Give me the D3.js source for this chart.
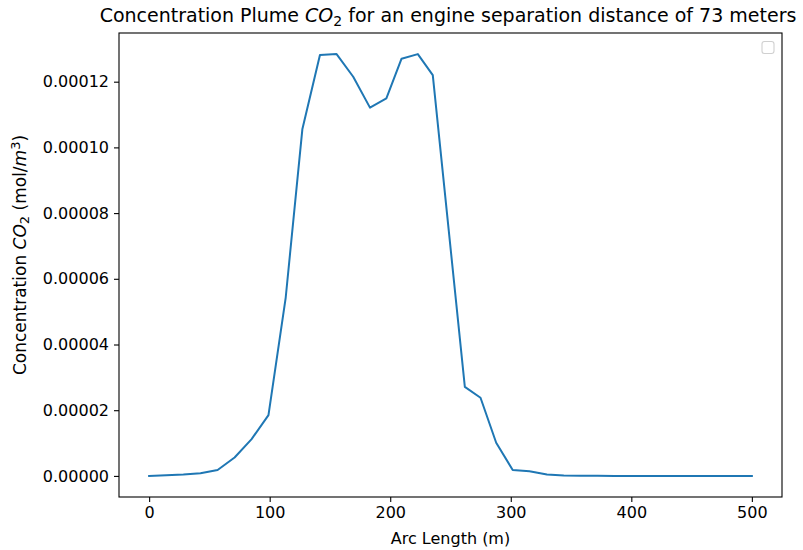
<!DOCTYPE html>
<html>
<head>
<meta charset="utf-8">
<script src="https://cdn.jsdelivr.net/npm/d3@7"></script>
<style>
  body { margin: 0; background: #fff; }
  svg text { font-family: "DejaVu Sans", sans-serif; fill: #000; }
</style>
</head>
<body>
<div id="chart"></div>
<script>
// arc length along the sampling arc (m)
const arcLength = [0, 14.2, 28.4, 42.6, 56.8, 70.9, 85, 99, 113.3, 127.1, 141.7, 155.5, 169.3, 183.2,
  196.8, 209.4, 222.9, 235.3, 248.6, 261.9, 274.9, 287.9, 301.6, 315.5, 330, 344, 358, 372, 386,
  400, 414, 428, 443, 457, 471, 486, 500];
// CO2 concentration (mol/m^3)
const concentration = [0, 0.0000002, 0.0000004, 0.0000008, 0.0000018, 0.0000056, 0.0000112, 0.0000185,
  0.0000543, 0.0001055, 0.0001281, 0.0001284, 0.0001215, 0.0001121, 0.0001149, 0.0001270, 0.0001284,
  0.0001220, 0.0000745, 0.0000271, 0.0000238, 0.0000101, 0.0000018, 0.0000014, 0.0000004, 0.0000001,
  0.00000005, 0.00000002, 0, 0, 0, 0, 0, 0, 0, 0, 0];
const xTicks = [0, 100, 200, 300, 400, 500];
const yTicks = [0, 0.00002, 0.00004, 0.00006, 0.00008, 0.0001, 0.00012];

const data = arcLength.map((d, i) => ({x: d, y: concentration[i]}));

var W = 803, H = 550;
var margin = {top: 33, right: 21, bottom: 53, left: 119},
    width = W - margin.left - margin.right,
    height = H - margin.top - margin.bottom;

var svg = d3.select("#chart").append("svg")
    .attr("width", W)
    .attr("height", H);

var g = svg.append("g")
    .attr("transform", "translate(" + margin.left + "," + margin.top + ")");

// matplotlib style 5% padding on data range
var xExt = d3.extent(arcLength), xPad = (xExt[1] - xExt[0]) * 0.05;
var yExt = d3.extent(concentration), yPad = (yExt[1] - yExt[0]) * 0.05;
var x = d3.scaleLinear().domain([xExt[0] - xPad, xExt[1] + xPad]).range([0, width]);
var y = d3.scaleLinear().domain([yExt[0] - yPad, yExt[1] + yPad]).range([height, 0]);

var line = d3.line().x(d => x(d.x)).y(d => y(d.y));

g.append("path")
    .datum(data)
    .attr("fill", "none")
    .attr("stroke", "#1f77b4")
    .attr("stroke-width", 2)
    .attr("stroke-linejoin", "round")
    .attr("stroke-linecap", "square")
    .attr("d", line);

// axes
var xAxis = g.append("g")
    .attr("transform", "translate(0," + height + ")")
    .call(d3.axisBottom(x).tickValues(xTicks).tickFormat(d3.format("d")).tickSize(5).tickPadding(5));
var yAxis = g.append("g")
    .call(d3.axisLeft(y).tickValues(yTicks).tickFormat(d3.format(".5f")).tickSize(5).tickPadding(5));
[xAxis, yAxis].forEach(a => {
  a.select(".domain").remove();
  a.selectAll("line").attr("stroke", "#000").attr("stroke-width", 1.1);
  a.selectAll("text").style("font-size", "16px").attr("fill", "#000");
});

// frame
g.append("rect")
    .attr("width", width).attr("height", height)
    .attr("fill", "none").attr("stroke", "#000").attr("stroke-width", 1.1);

// empty legend box
g.append("rect")
    .attr("x", width - 20).attr("y", 8.5)
    .attr("width", 12).attr("height", 12)
    .attr("rx", 2.5)
    .attr("fill", "#fff").attr("stroke", "#d0d0d0").attr("stroke-width", 1.1);

// title
var title = svg.append("text")
    .attr("x", 448).attr("y", 22)
    .attr("text-anchor", "middle")
    .style("font-size", "19px");
title.append("tspan").text("Concentration Plume ");
title.append("tspan").style("font-style", "italic").text("CO");
title.append("tspan").attr("dy", 4).style("font-size", "14px").text("2");
title.append("tspan").attr("dy", -4).text(" for an engine separation distance of 73 meters");

// x label
svg.append("text")
    .attr("x", margin.left + width / 2).attr("y", 544)
    .attr("text-anchor", "middle")
    .style("font-size", "16px")
    .text("Arc Length (m)");

// y label
var yl = svg.append("text")
    .attr("transform", "translate(26," + (margin.top + height / 2 - 10) + "),rotate(-90)")
    .attr("text-anchor", "middle")
    .style("font-size", "17px");
yl.append("tspan").text("Concentration ");
yl.append("tspan").style("font-style", "italic").text("CO");
yl.append("tspan").attr("dy", 3).style("font-size", "13px").text("2");
yl.append("tspan").attr("dy", -3).text(" (mol/");
yl.append("tspan").style("font-style", "italic").text("m");
yl.append("tspan").attr("dy", -6).style("font-size", "13px").text("3");
yl.append("tspan").attr("dy", 6).text(")");
</script>
</body>
</html>
